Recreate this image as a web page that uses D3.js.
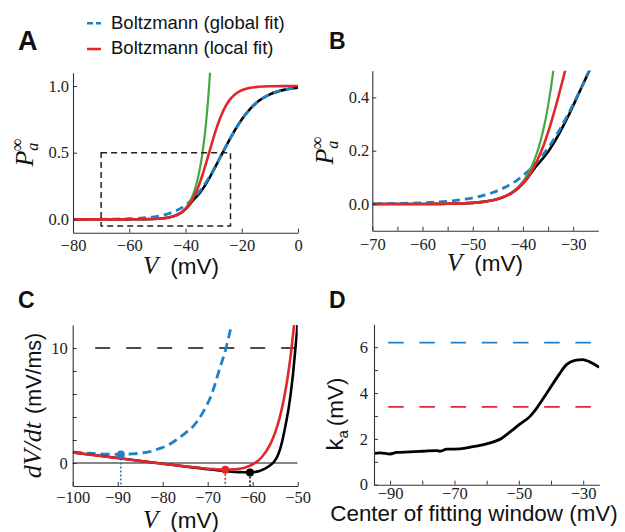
<!DOCTYPE html>
<html>
<head>
<meta charset="utf-8">
<script src="https://cdn.jsdelivr.net/npm/d3@7"></script>
<style>
  html, body { margin: 0; padding: 0; background: #fff; }
  svg { display: block; }
</style>
</head>
<body>
<script>
// ---------------- DATA ----------------
// Panels A & B: steady-state activation vs voltage
const vGrid   = [-80,-75,-70,-65,-60,-57,-55,-52,-50,-48,-46,-44,-42,-41,-40,-39,-38,-37,-36,-35,-34,-33,-32,-31,-30,-29,-28,-27,-26,-25,-24,-22,-20,-17,-14,-10,-5,0];
const pTrue   = [0,0,0,0.0001,0.0002,0.0006,0.0010,0.0025,0.0044,0.0080,0.0143,0.0254,0.0448,0.0590,0.0775,0.1000,0.1260,0.1500,0.1720,0.1960,0.2250,0.2570,0.2920,0.3290,0.3690,0.4100,0.4510,0.4915,0.5320,0.5720,0.6110,0.6848,0.7496,0.8291,0.8876,0.9376,0.9712,0.9868];
const pGlobal = [0.0002,0.0004,0.0009,0.0021,0.0047,0.0076,0.0105,0.0169,0.0232,0.0317,0.0432,0.0587,0.0793,0.0919,0.1064,0.1226,0.1411,0.1617,0.1849,0.2104,0.2384,0.2689,0.3018,0.3368,0.3739,0.4123,0.4518,0.4919,0.5322,0.5723,0.6110,0.6848,0.7496,0.8291,0.8876,0.9376,0.9712,0.9868];
const pLocal  = [0,0,0,0.0001,0.0002,0.0006,0.0010,0.0025,0.0044,0.0080,0.0143,0.0254,0.0448,0.0593,0.0780,0.1018,0.1320,0.1697,0.2151,0.2689,0.3307,0.3985,0.4706,0.5440,0.6150,0.6824,0.7420,0.7946,0.8382,0.8745,0.9033,0.9440,0.9680,0.9865,0.9944,0.9983,0.9996,0.9999];
const expV    = [-80,-60,-50,-46,-44,-42,-41,-40,-39,-38,-37,-36,-35,-34,-33,-32.5,-32,-31.5,-31];
const pExp    = [0,0.0002,0.0044,0.0145,0.0261,0.0469,0.0630,0.0845,0.1134,0.1521,0.2043,0.2743,0.3679,0.4938,0.6625,0.7674,0.8890,1.0298,1.1930];
const zoomBoxV = [-70, -24];
const zoomBoxP = [-0.05, 0.5];

// Panel C: dV/dt vs V
const cGlobalV = [-100,-97,-95,-93,-91,-89.3,-87,-85,-83,-81,-79,-77,-75,-73,-71,-69,-67.5,-66,-64.6];
const cGlobal  = [0.94,0.87,0.82,0.78,0.76,0.75,0.79,0.85,0.97,1.22,1.52,2.0,2.6,3.3,4.45,6.1,8.0,9.9,12.2];
const cLocalV  = [-100,-95,-90,-85,-80,-75,-72,-70,-68,-66.1,-64,-62,-60,-58,-56,-55,-54,-53,-52,-51.5,-51,-50.7];
const cLocal   = [0.91,0.67,0.43,0.18,-0.06,-0.29,-0.42,-0.50,-0.555,-0.58,-0.55,-0.43,-0.12,0.5,1.71,2.66,3.95,5.7,8.07,9.54,11.3,12.4];
const cTrueV   = [-100,-90,-80,-75,-70,-68,-66,-64,-62,-60.6,-59.5,-58.5,-57.5,-56.5,-55.5,-55,-54.5,-54,-53.5,-53,-52.5,-52,-51.5,-51,-50.5,-50.2,-50];
const cTrue    = [0.91,0.43,-0.06,-0.30,-0.54,-0.62,-0.70,-0.77,-0.81,-0.82,-0.79,-0.70,-0.54,-0.30,0.0,0.25,0.6,1.1,1.8,2.7,3.7,4.8,6.2,7.9,10.0,11.3,12.3];
const cDotV    = [-89.3, -66.1, -60.6];
const cDotY    = [0.74, -0.58, -0.82];
const cThreshold = 10;

// Panel D: local slope factor vs window centre
const dCenterV = [-95,-93.1,-90,-87.9,-83.8,-79.7,-75.5,-74.5,-72.4,-68.3,-64.2,-60,-55.3,-52.8,-49.7,-46.6,-44.5,-41.4,-37.3,-35.2,-32.6,-30.2,-28,-25];
const dKa      = [1.37,1.39,1.34,1.41,1.43,1.46,1.49,1.46,1.55,1.56,1.66,1.78,2.03,2.29,2.64,2.97,3.33,3.98,4.85,5.24,5.43,5.46,5.36,5.12];
const kGlobal = 6.2;
const kLocal  = 3.4;
const dRefLineV = [-90.6, -27.6];

// Tick values
const aXTicks = [-80,-60,-40,-20,0];
const aYTicks = [0,0.5,1.0];
const bXTicks = [-70,-65,-60,-55,-50,-45,-40,-35,-30];
const bYTicks = [0,0.2,0.4];
const cXTicks = [-100,-90,-80,-70,-60,-50];
const cYTicks = [0,2,4,6,8,10];
const dXTicks = [-90,-80,-70,-60,-50,-40,-30];
const dYTicks = [0,1,2,3,4,5,6];

// ---------------- STYLE ----------------
const BLUE = "#1f80c8", RED = "#e3262b", GREEN = "#41a941", BLACK = "#000";
const SERIF = "Liberation Serif, DejaVu Serif, serif";
const SANS = "Liberation Sans, Arial, sans-serif";
const AX = "#333";

const svg = d3.select("body").append("svg").attr("width", 625).attr("height", 532);
const fmtMinus = d3.format("d");

function axes(g, x, y, o) {
  const xa = d3.axisBottom(x).tickValues(o.xt).tickSizeInner(-4).tickSizeOuter(0).tickPadding(o.xpad).tickFormat(o.xf);
  const ya = d3.axisLeft(y).tickValues(o.yt).tickSizeInner(-4).tickSizeOuter(0).tickPadding(o.ypad).tickFormat(o.yf);
  const gx = g.append("g").attr("transform", `translate(0,${y.range()[0]})`).call(xa);
  const gy = g.append("g").attr("transform", `translate(${x.range()[0]},0)`).call(ya);
  [gx, gy].forEach(a => {
    a.attr("font-family", SERIF).attr("font-size", 16.5);
    a.selectAll("path.domain").attr("stroke", AX).attr("stroke-width", 1.1);
    a.selectAll(".tick line").attr("stroke", AX).attr("stroke-width", 1);
    a.selectAll(".tick text").attr("fill", "#222").style("font-family", SERIF).style("font-size", "16.5px");
  });
}
function clip(id, x, y) {
  svg.append("clipPath").attr("id", id).append("rect")
    .attr("x", x.range()[0]).attr("y", y.range()[1])
    .attr("width", x.range()[1] - x.range()[0]).attr("height", y.range()[0] - y.range()[1]);
}
function curve(g, x, y, xs, ys, color, w, dash, curveType) {
  const line = d3.line().x(d => x(d[0])).y(d => y(d[1])).curve(curveType || d3.curveMonotoneX);
  const p = g.append("path").datum(d3.zip(xs, ys)).attr("d", line)
    .attr("fill", "none").attr("stroke", color).attr("stroke-width", w)
    .attr("stroke-linejoin", "round");
  if (dash) p.attr("stroke-dasharray", dash);
  return p;
}
function panelLabel(txt, x, y, size) {
  svg.append("text").attr("x", x).attr("y", y).text(txt)
    .attr("font-family", SANS).attr("font-weight", "bold").attr("font-size", size).attr("fill", "#111");
}
function vLabel(cx, y) {
  const t = svg.append("text").attr("x", cx).attr("y", y).attr("text-anchor", "middle").attr("fill", "#111");
  t.append("tspan").attr("font-family", SERIF).attr("font-style", "italic").attr("font-size", 25).text("V");
  t.append("tspan").attr("font-family", SANS).attr("font-size", 22.5).attr("dx", 12).text("(mV)");
}
function pLabel(bx, cy) {
  const t = svg.append("text").attr("transform", `translate(${bx},${cy}) rotate(-90)`)
    .attr("text-anchor", "middle").attr("fill", "#111").attr("font-family", SERIF);
  t.append("tspan").attr("font-style", "italic").attr("font-size", 26).text("P");
  t.append("tspan").attr("font-style", "italic").attr("font-size", 16).attr("dy", 5).text("a");
  t.append("tspan").attr("font-size", 18).attr("dx", -9).attr("dy", -15).text("∞");
}

// ---------------- LEGEND ----------------
svg.append("line").attr("x1", 87).attr("x2", 101).attr("y1", 23.3).attr("y2", 23.3)
  .attr("stroke", BLUE).attr("stroke-width", 2.5).attr("stroke-dasharray", "6,3");
svg.append("line").attr("x1", 87).attr("x2", 101).attr("y1", 49).attr("y2", 49)
  .attr("stroke", RED).attr("stroke-width", 2.5);
svg.append("text").attr("x", 111).attr("y", 28.5).text("Boltzmann (global fit)")
  .attr("font-family", SANS).attr("font-size", 18.5).attr("fill", "#111");
svg.append("text").attr("x", 111).attr("y", 53.5).text("Boltzmann (local fit)")
  .attr("font-family", SANS).attr("font-size", 18.5).attr("fill", "#111");

// ---------------- PANEL A ----------------
{
  const x = d3.scaleLinear().domain([-80, 0]).range([73, 298]);
  const y = d3.scaleLinear().domain([-0.1, 1.1]).range([232.7, 72.7]);
  clip("clipA", x, y);
  const g = svg.append("g");
  const c = g.append("g").attr("clip-path", "url(#clipA)");
  curve(c, x, y, vGrid, pTrue, BLACK, 2.6);
  curve(c, x, y, vGrid, pGlobal, BLUE, 2.8, "8,5");
  curve(c, x, y, expV, pExp, GREEN, 2.2);
  curve(c, x, y, vGrid, pLocal, RED, 2.6);
  g.append("rect").attr("x", x(zoomBoxV[0])).attr("y", y(zoomBoxP[1]))
    .attr("width", x(zoomBoxV[1]) - x(zoomBoxV[0])).attr("height", y(zoomBoxP[0]) - y(zoomBoxP[1]))
    .attr("fill", "none").attr("stroke", "#222").attr("stroke-width", 1.5).attr("stroke-dasharray", "6,4");
  axes(g, x, y, { xt: aXTicks, yt: aYTicks, xpad: 6.3, ypad: 4, xf: fmtMinus, yf: d3.format(".1f") });
  vLabel(181, 274);
  pLabel(33, 152.7);
  panelLabel("A", 18, 50, 27);
}

// ---------------- PANEL B ----------------
{
  const x = d3.scaleLinear().domain([-70, -25]).range([372.3, 598.3]);
  const y = d3.scaleLinear().domain([-0.1, 0.5]).range([230.7, 70.7]);
  clip("clipB", x, y);
  const g = svg.append("g");
  const c = g.append("g").attr("clip-path", "url(#clipB)");
  curve(c, x, y, vGrid, pTrue, BLACK, 2.6);
  curve(c, x, y, vGrid, pGlobal, BLUE, 2.8, "8,5");
  curve(c, x, y, expV, pExp, GREEN, 2.2);
  curve(c, x, y, vGrid, pLocal, RED, 2.6);
  axes(g, x, y, { xt: bXTicks, yt: bYTicks, xpad: 7.3, ypad: 3, xf: d => d % 10 === 0 ? fmtMinus(d) : "", yf: d3.format(".1f") });
  vLabel(485, 271);
  pLabel(333, 150.7);
  panelLabel("B", 329, 49.3, 23);
}

// ---------------- PANEL C ----------------
{
  const x = d3.scaleLinear().domain([-100, -50]).range([72.7, 297.7]);
  const y = d3.scaleLinear().domain([-2, 12]).range([486, 325]);
  clip("clipC", x, y);
  const g = svg.append("g");
  const c = g.append("g").attr("clip-path", "url(#clipC)");
  c.append("line").attr("x1", x(-100)).attr("x2", x(-50)).attr("y1", y(0)).attr("y2", y(0))
    .attr("stroke", "#111").attr("stroke-width", 1.2);
  c.append("line").attr("x1", x(-95)).attr("x2", x(-50)).attr("y1", y(cThreshold)).attr("y2", y(cThreshold))
    .attr("stroke", "#111").attr("stroke-width", 1.4).attr("stroke-dasharray", "15,16");
  const dotColors = [BLUE, RED, BLACK];
  cDotV.forEach((v, i) => {
    c.append("line").attr("x1", x(v)).attr("x2", x(v)).attr("y1", y(cDotY[i])).attr("y2", y(-2))
      .attr("stroke", dotColors[i]).attr("stroke-width", 1.6).attr("stroke-dasharray", "2,2");
  });
  curve(c, x, y, cGlobalV, cGlobal, BLUE, 2.8, "9,5");
  curve(c, x, y, cTrueV, cTrue, BLACK, 2.6);
  curve(c, x, y, cLocalV, cLocal, RED, 2.6);
  cDotV.forEach((v, i) => {
    c.append("circle").attr("cx", x(v)).attr("cy", y(cDotY[i])).attr("r", 4).attr("fill", dotColors[i]);
  });
  axes(g, x, y, { xt: cXTicks, yt: cYTicks, xpad: 5.6, ypad: 5, xf: fmtMinus, yf: d => (d === 0 || d === 10) ? fmtMinus(d) : "" });
  vLabel(181, 528);
  const t = svg.append("text").attr("transform", `translate(41,405.5) rotate(-90)`)
    .attr("text-anchor", "middle").attr("fill", "#111");
  t.append("tspan").attr("font-family", SERIF).attr("font-style", "italic").attr("font-size", 26).text("dV/dt");
  t.append("tspan").attr("font-family", SANS).attr("font-size", 21.5).attr("dx", 8).text("(mV/ms)");
  panelLabel("C", 18, 308.3, 23);
}

// ---------------- PANEL D ----------------
{
  const x = d3.scaleLinear().domain([-95, -25]).range([374, 599.3]);
  const y = d3.scaleLinear().domain([0, 7]).range([484.7, 324.3]);
  clip("clipD", x, y);
  const g = svg.append("g");
  const c = g.append("g").attr("clip-path", "url(#clipD)");
  c.append("line").attr("x1", x(dRefLineV[0])).attr("x2", x(dRefLineV[1])).attr("y1", y(kGlobal)).attr("y2", y(kGlobal))
    .attr("stroke", BLUE).attr("stroke-width", 1.8).attr("stroke-dasharray", "15.5,15.7");
  c.append("line").attr("x1", x(dRefLineV[0])).attr("x2", x(dRefLineV[1])).attr("y1", y(kLocal)).attr("y2", y(kLocal))
    .attr("stroke", RED).attr("stroke-width", 1.8).attr("stroke-dasharray", "15.5,15.7");
  curve(c, x, y, dCenterV, dKa, BLACK, 2.8);
  axes(g, x, y, { xt: dXTicks, yt: dYTicks, xpad: 2.5, ypad: 6, xf: d => (d + 90) % 20 === 0 ? fmtMinus(d) : "", yf: d => d % 2 === 0 ? fmtMinus(d) : "" });
  svg.append("text").attr("x", 474).attr("y", 521).attr("text-anchor", "middle")
    .attr("font-family", SANS).attr("font-size", 22.4).attr("fill", "#111").text("Center of fitting window (mV)");
  const t = svg.append("text").attr("transform", `translate(343,414) rotate(-90)`)
    .attr("text-anchor", "middle").attr("fill", "#111").attr("font-family", SANS);
  t.append("tspan").attr("font-size", 24).text("k");
  t.append("tspan").attr("font-size", 15).attr("dy", 5).text("a");
  t.append("tspan").attr("font-size", 22.5).attr("dy", -5).attr("dx", 4).text("(mV)");
  panelLabel("D", 329, 308, 23);
}
</script>
</body>
</html>
